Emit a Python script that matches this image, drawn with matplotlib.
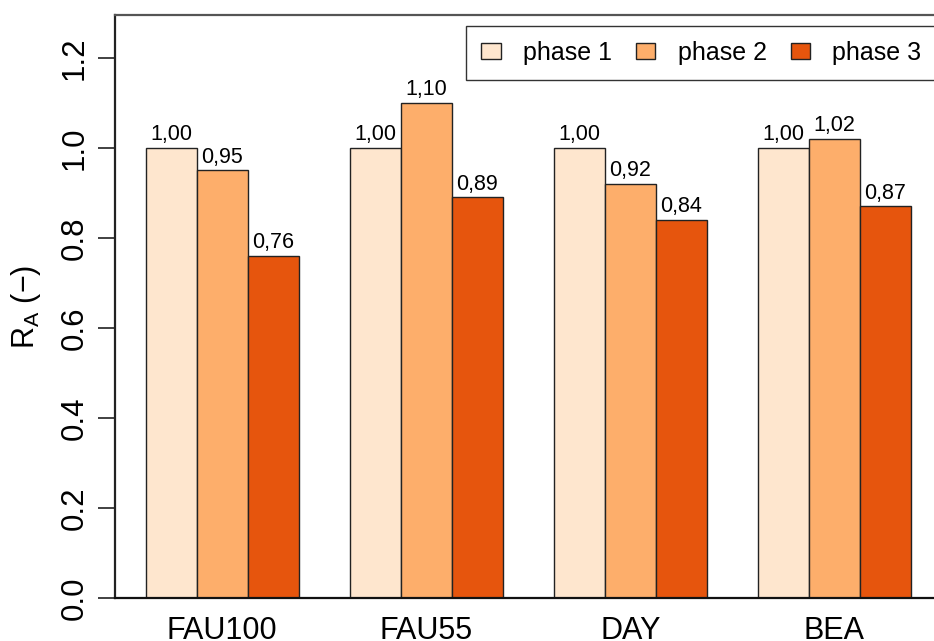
import numpy as np
import matplotlib.pyplot as plt
from matplotlib import rcParams

rcParams['font.family'] = ['Liberation Sans', 'DejaVu Sans']
rcParams['mathtext.default'] = 'regular'

# data
catalysts = ["FAU100", "FAU55", "DAY", "BEA"]
phase_names = ["phase 1", "phase 2", "phase 3"]
phase1 = [1.00, 1.00, 1.00, 1.00]
phase2 = [0.95, 1.10, 0.92, 1.02]
phase3 = [0.76, 0.89, 0.84, 0.87]
colors = ["#FEE6CE", "#FDAE6B", "#E6550D"]

fig = plt.figure(figsize=(9.34, 6.41), dpi=100)
ax = fig.add_axes([115 / 934, 1 - 598 / 641, 1 - 115 / 934, (598 - 15) / 641])

# R barplot layout: bar width 1, one empty slot between groups
group_start = 1 + 4 * np.arange(len(catalysts))
for i, (vals, col, name) in enumerate(zip([phase1, phase2, phase3], colors, phase_names)):
    xs = group_start + i + 0.5
    ax.bar(xs, vals, width=1.0, color=col, edgecolor="#222222",
           linewidth=1.0, label=name)
    for x, v in zip(xs, vals):
        ax.annotate(f"{v:.2f}".replace(".", ","), xy=(x, v), xytext=(0, 2),
                    textcoords="offset points", ha="center", va="bottom",
                    fontsize=15.5)

ax.set_xlim(0.4, 16.45)
ax.set_ylim(0, 1.295)

ax.set_yticks(np.arange(0, 1.21, 0.2))
ax.set_yticklabels([f"{t:.1f}" for t in np.arange(0, 1.21, 0.2)],
                   rotation=90, va="center", fontsize=22.5)
ax.tick_params(axis="y", length=12, width=1.3, color="#333333", pad=6.5)

ax.set_xticks(group_start + 1.5)
ax.set_xticklabels(catalysts, fontsize=22)
ax.tick_params(axis="x", length=0, pad=13)

ax.set_ylabel("R$_A$ (−)", fontsize=22, labelpad=12)

ax.spines["right"].set_visible(False)
ax.spines["top"].set_color("#555555")
ax.spines["top"].set_linewidth(1.6)
ax.spines["left"].set_color("#222222")
ax.spines["left"].set_linewidth(1.6)
ax.spines["bottom"].set_color("#111111")
ax.spines["bottom"].set_linewidth(1.6)

leg = ax.legend(loc="upper left", bbox_to_anchor=(466 / 934, 1 - 26 / 641),
                bbox_transform=fig.transFigure, ncol=3, fontsize=18,
                frameon=True, fancybox=False, edgecolor="black",
                handlelength=0.78, handleheight=0.62, handletextpad=0.9,
                columnspacing=0.95, borderpad=0.6, borderaxespad=0)
leg.get_frame().set_linewidth(1.0)

fig.savefig("out.png", dpi=100)
